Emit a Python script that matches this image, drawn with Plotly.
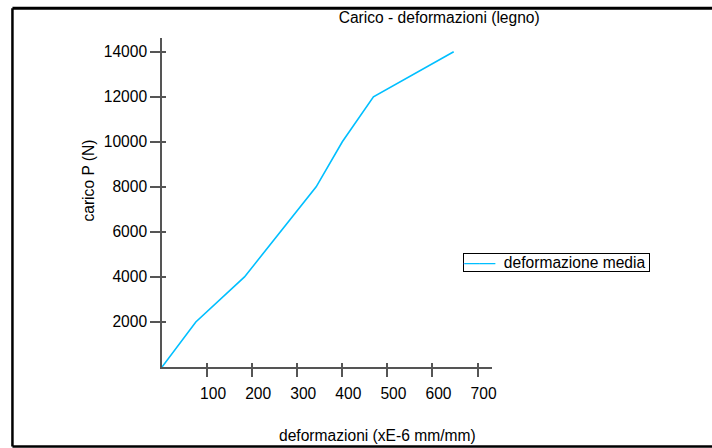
import plotly.graph_objects as go

deformazione = [0, 75, 183, 262, 342, 400, 469, 647]
carico = [0, 2000, 4000, 6000, 8000, 10000, 12000, 14000]
x_ticks = [100, 200, 300, 400, 500, 600, 700]
y_ticks = [2000, 4000, 6000, 8000, 10000, 12000, 14000]
series_name = "deformazione media"

FONT = "Liberation Sans, Arial, sans-serif"
FS = 15.6
AX = "#555555"
LINE = "#00BFFF"

fig = go.Figure()
fig.add_trace(go.Scatter(x=deformazione, y=carico, mode="lines",
                         name=series_name, showlegend=False,
                         line=dict(color=LINE, width=1.6)))
fig.add_trace(go.Scatter(x=[], y=[], xaxis="x2", yaxis="y2", showlegend=False))

common = dict(showgrid=False, zeroline=False)
fig.update_layout(
    width=712, height=448,
    margin=dict(l=162, r=220, t=38, b=81, pad=0),
    paper_bgcolor="white", plot_bgcolor="white",
    font=dict(family=FONT, size=FS, color="black"),
    title=dict(text="Carico - deformazioni (legno)", xref="paper", x=0.84,
               xanchor="center", yref="container", y=1 - 18 / 448,
               yanchor="middle", font=dict(size=FS, family=FONT)),
    xaxis=dict(range=[0, 732], tickvals=x_ticks, ticks="outside", ticklen=8,
               tickwidth=1.5, tickcolor=AX, showline=True, linecolor=AX,
               linewidth=1.5, ticklabelshift=6, ticklabelstandoff=4, **common),
    yaxis=dict(range=[0, 14609], tickvals=y_ticks, tickformat="d",
               ticks="outside", ticklen=10,
               tickwidth=1.5, tickcolor=AX, showline=True, linecolor=AX,
               linewidth=1.5, ticklabelstandoff=0, **common),
    xaxis2=dict(range=[0, 732], tickvals=x_ticks, ticks="inside", ticklen=4,
                tickwidth=1.5, tickcolor=AX, showticklabels=False,
                overlaying="x", anchor="y2", showline=False, **common),
    yaxis2=dict(range=[0, 14609], tickvals=y_ticks, ticks="inside", ticklen=4,
                tickwidth=1.5, tickcolor=AX, showticklabels=False,
                overlaying="y", anchor="x2", showline=False, **common),
    annotations=[
        dict(text=f"<span style='color:{LINE}'>——</span>&nbsp;&nbsp;{series_name}&nbsp;",
             xref="paper", yref="paper", x=0.912, y=0.345,
             xanchor="left", yanchor="top", showarrow=False,
             bordercolor="black", borderwidth=1, borderpad=0,
             bgcolor="white", font=dict(size=FS, family=FONT)),
        dict(text="deformazioni (xE-6 mm/mm)", xref="paper", yref="paper",
             x=0.6516, y=-0.2078, xanchor="center", yanchor="middle",
             showarrow=False, font=dict(size=FS, family=FONT)),
        dict(text="carico P (N)", xref="paper", yref="paper",
             x=-0.223, y=0.568, xanchor="center", yanchor="middle",
             textangle=-90, showarrow=False, font=dict(size=FS, family=FONT)),
    ],
    shapes=[
        dict(type="line", xref="paper", yref="paper",
             x0=-0.4532, x1=-0.4532, y0=-0.2413, y1=1.0903,
             line=dict(color="black", width=2.5), layer="above"),
        dict(type="line", xref="paper", yref="paper",
             x0=-0.4532, x1=1.75, y0=-0.2413, y1=-0.2413,
             line=dict(color="black", width=2.5), layer="above"),
        dict(type="line", xref="paper", yref="paper",
             x0=-0.4532, x1=1.75, y0=1.0903, y1=1.0903,
             line=dict(color="black", width=3), layer="below"),
    ],
)

fig.write_html("out.html",
               config={"displayModeBar": False},
               post_script="document.body.style.margin='0';document.body.style.overflow='hidden';")
